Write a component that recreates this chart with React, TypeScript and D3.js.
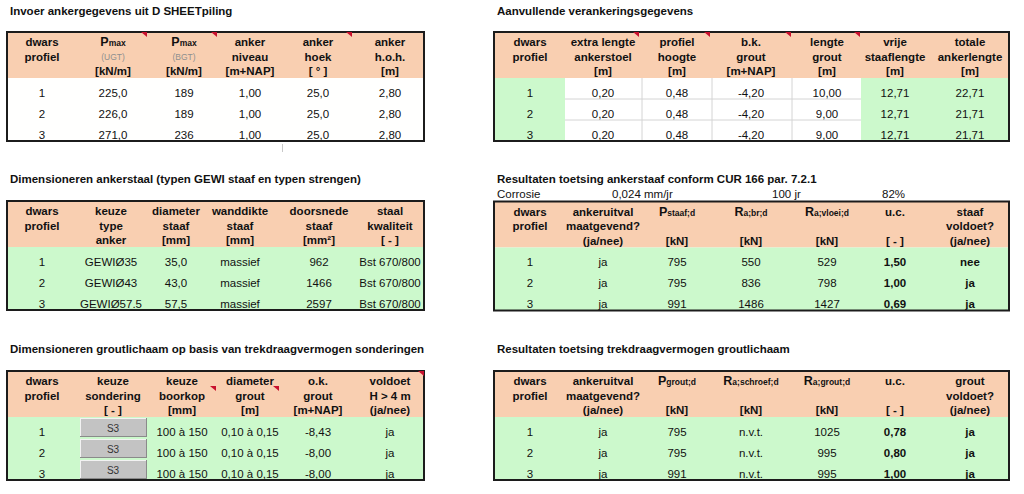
import React from "react";
import * as d3 from "d3";

// ---------- DATA ----------
const profielen = ["1", "2", "3"];

// Invoer ankergegevens uit D SHEETpiling
const pmaxUGT = [225.0, 226.0, 271.0];
const pmaxBGT = [189, 189, 236];
const ankerNiveau = [1.0, 1.0, 1.0];
const ankerHoek = [25.0, 25.0, 25.0];
const ankerHoh = [2.8, 2.8, 2.8];

// Aanvullende verankeringsgegevens
const extraLengteAnkerstoel = [0.2, 0.2, 0.2];
const profielHoogte = [0.48, 0.48, 0.48];
const bkGrout = [-4.2, -4.2, -4.2];
const lengteGrout = [10.0, 9.0, 9.0];
const vrijeStaaflengte = [12.71, 12.71, 12.71];
const totaleAnkerlengte = [22.71, 21.71, 21.71];

// Dimensioneren ankerstaal
const typeAnker = ["GEWIØ35", "GEWIØ43", "GEWIØ57.5"];
const diameterStaaf = [35.0, 43.0, 57.5];
const wanddikteStaaf = ["massief", "massief", "massief"];
const doorsnedeStaaf = [962, 1466, 2597];
const staalKwaliteit = ["Bst 670/800", "Bst 670/800", "Bst 670/800"];

// Resultaten toetsing ankerstaaf
const corrosieSnelheid = 0.024;
const levensduur = 100;
const restPercentage = 82;
const ankeruitvalStaaf = ["ja", "ja", "ja"];
const pStaafD = [795, 795, 991];
const raBrD = [550, 836, 1486];
const raVloeiD = [529, 798, 1427];
const ucStaaf = [1.5, 1.0, 0.69];
const staafVoldoet = ["nee", "ja", "ja"];

// Dimensioneren groutlichaam
const sondering = ["S3", "S3", "S3"];
const boorkop = ["100 à 150", "100 à 150", "100 à 150"];
const diameterGrout = ["0,10 à 0,15", "0,10 à 0,15", "0,10 à 0,15"];
const okGrout = [-8.43, -8.0, -8.0];
const voldoetH4 = ["ja", "ja", "ja"];

// Resultaten toetsing groutlichaam
const ankeruitvalGrout = ["ja", "ja", "ja"];
const pGroutD = [795, 795, 991];
const raSchroefD = ["n.v.t.", "n.v.t.", "n.v.t."];
const raGroutD = [1025, 995, 995];
const ucGrout = [0.78, 0.8, 1.0];
const groutVoldoet = ["ja", "ja", "ja"];

// ---------- FORMATTING ----------
const nl = d3.formatLocale({
  decimal: ",",
  thousands: ".",
  grouping: [3],
  currency: ["€", ""],
  minus: "-",
});
const fInt = nl.format("d");
const f1 = nl.format(".1f");
const f2 = nl.format(".2f");
const f3 = nl.format(".3f");

// ---------- STYLE / LAYOUT ----------
const FONT = "'Liberation Sans', Arial, sans-serif";
const PEACH = "#f9cfb1";
const GREEN = "#ccf9cc";
const WHITE = "#ffffff";
const TXT = "#111111";
const HEADER_H = 46;
const ROW_H = 21;
const FS = 11.5;

const rightEdges = [494, 565, 642, 712, 792, 861, 935, 1009];
const rightCenters = [530, 603, 677, 751, 827, 895, 970];

type HItem = string | { p: string; s: string } | { note: string } | null;
type Col = { values: string[]; bold?: boolean; fill?: string; button?: boolean };
type Mark = { x: number; dy: number };

function HeaderLine({ item, cx, y }: { item: HItem; cx: number; y: number }) {
  if (item === null) return null;
  if (typeof item === "string") {
    return (
      <text x={cx} y={y} textAnchor="middle" fontSize={FS} fontWeight="bold" fill={TXT}>
        {item}
      </text>
    );
  }
  if ("note" in item) {
    return (
      <text x={cx} y={y - 1} textAnchor="middle" fontSize={8.5} fill="#8f8f8f">
        {item.note}
      </text>
    );
  }
  return (
    <text x={cx} y={y} textAnchor="middle" fontWeight="bold" fill={TXT}>
      <tspan fontSize={12.5}>{item.p}</tspan>
      <tspan fontSize={8.5}>{item.s}</tspan>
    </text>
  );
}

function Table({
  top,
  edges,
  centers,
  headers,
  columns,
  marks = [],
}: {
  top: number;
  edges: number[];
  centers: number[];
  headers: HItem[][];
  columns: Col[];
  marks?: Mark[];
}) {
  const x0 = edges[0];
  const x1 = edges[edges.length - 1];
  const hb = top + HEADER_H;
  const y = d3
    .scaleBand<string>()
    .domain(profielen)
    .range([hb, hb + ROW_H * profielen.length]);
  const bottom = hb + ROW_H * profielen.length;
  const headerY = [top + 14, top + 28.5, top + 43];

  const gridEls: React.ReactNode[] = [];
  columns.forEach((c, i) => {
    if (c.fill === WHITE) {
      profielen.slice(1).forEach((p) => {
        gridEls.push(
          <line key={`h${i}${p}`} x1={edges[i]} x2={edges[i + 1]} y1={y(p)!} y2={y(p)!} stroke="#d4d4d4" strokeWidth={1} />
        );
      });
      if (i > 0 && columns[i - 1].fill === WHITE) {
        gridEls.push(
          <line key={`v${i}`} x1={edges[i]} x2={edges[i]} y1={hb} y2={bottom} stroke="#d4d4d4" strokeWidth={1} />
        );
      }
    }
  });

  return (
    <g>
      <rect x={x0} y={top} width={x1 - x0} height={HEADER_H} fill={PEACH} />
      {columns.map((c, i) => (
        <rect key={`f${i}`} x={edges[i]} y={hb} width={edges[i + 1] - edges[i]} height={bottom - hb} fill={c.fill ?? GREEN} />
      ))}
      {gridEls}
      {headers.map((lines, i) =>
        lines.map((item, j) => <HeaderLine key={`hd${i}-${j}`} item={item} cx={centers[i]} y={headerY[j]} />)
      )}
      {columns.map((c, i) =>
        profielen.map((p, r) => {
          const by = y(p)!;
          if (c.button) {
            const bx0 = edges[i] + 2;
            const bx1 = edges[i + 1] - 1;
            const bt = by + 1;
            const bb = by + ROW_H - 1;
            return (
              <g key={`b${i}${r}`}>
                <rect x={bx0} y={bt} width={bx1 - bx0} height={bb - bt} fill="#c3c3c3" />
                <line x1={bx0} x2={bx1} y1={bt + 0.5} y2={bt + 0.5} stroke="#f2f2f2" />
                <line x1={bx0 + 0.5} x2={bx0 + 0.5} y1={bt} y2={bb} stroke="#f2f2f2" />
                <line x1={bx0} x2={bx1} y1={bb - 0.5} y2={bb - 0.5} stroke="#8a8a8a" />
                <line x1={bx1 - 0.5} x2={bx1 - 0.5} y1={bt} y2={bb} stroke="#8a8a8a" />
                <text x={centers[i]} y={by + 14.5} textAnchor="middle" fontSize={10} fill="#333">
                  {c.values[r]}
                </text>
              </g>
            );
          }
          return (
            <text
              key={`t${i}${r}`}
              x={centers[i]}
              y={by + y.bandwidth() - 2.5}
              textAnchor="middle"
              fontSize={FS}
              fontWeight={c.bold ? "bold" : "normal"}
              fill={TXT}
            >
              {c.values[r]}
            </text>
          );
        })
      )}
      <rect x={x0} y={top} width={x1 - x0} height={bottom - top} fill="none" stroke="#1c1c1c" strokeWidth={2} />
      {marks.map((m, k) => (
        <path
          key={`m${k}`}
          d={`M${m.x - 6},${top + m.dy} L${m.x},${top + m.dy} L${m.x},${top + m.dy + 5} Z`}
          fill="#c8102e"
        />
      ))}
    </g>
  );
}

function Title({ x, y, text }: { x: number; y: number; text: string }) {
  return (
    <text x={x} y={y} fontSize={FS} fontWeight="bold" fill={TXT}>
      {text}
    </text>
  );
}

export default function App() {
  const fmt = (arr: number[], f: (n: number) => string) => arr.map(f);
  return (
    <svg
      width={1024}
      height={494}
      style={{ position: "absolute", left: 0, top: 0 }}
      fontFamily={FONT}
    >
      <rect width={1024} height={494} fill="#ffffff" />

      {/* Titles */}
      <Title x={10} y={14.5} text="Invoer ankergegevens uit D SHEETpiling" />
      <Title x={497} y={14.5} text="Aanvullende verankeringsgegevens" />
      <Title x={10} y={183} text="Dimensioneren ankerstaal (typen GEWI staaf en typen strengen)" />
      <Title x={497} y={183} text="Resultaten toetsing ankerstaaf conform CUR 166 par. 7.2.1" />
      <Title x={10} y={352.5} text="Dimensioneren groutlichaam op basis van trekdraagvermogen sonderingen" />
      <Title x={497} y={352.5} text="Resultaten toetsing trekdraagvermogen groutlichaam" />

      <g fontSize={FS} fill={TXT}>
        <text x={497} y={197.5}>Corrosie</text>
        <text x={612} y={197.5}>{`${f3(corrosieSnelheid)} mm/jr`}</text>
        <text x={772} y={197.5}>{`${levensduur} jr`}</text>
        <text x={882} y={197.5}>{`${restPercentage}%`}</text>
      </g>

      <line x1={282.5} x2={282.5} y1={144} y2={152} stroke="#c8c8c8" />

      {/* Table 1 */}
      <Table
        top={32}
        edges={[7, 77, 147, 217, 285, 352, 424]}
        centers={[42, 113, 184, 250, 318, 390]}
        headers={[
          ["dwars", "profiel", null],
          [{ p: "P", s: "max" }, { note: "(UGT)" }, "[kN/m]"],
          [{ p: "P", s: "max" }, { note: "(BGT)" }, "[kN/m]"],
          ["anker", "niveau", "[m+NAP]"],
          ["anker", "hoek", "[ ° ]"],
          ["anker", "h.o.h.", "[m]"],
        ]}
        columns={[
          { values: profielen },
          { values: fmt(pmaxUGT, f1) },
          { values: fmt(pmaxBGT, fInt) },
          { values: fmt(ankerNiveau, f2) },
          { values: fmt(ankerHoek, f1) },
          { values: fmt(ankerHoh, f2) },
        ].map((c) => ({ ...c, fill: "#fffffe" }))}
        marks={[
          { x: 147, dy: 0 },
          { x: 217, dy: 0 },
          { x: 352, dy: 0 },
        ]}
      />

      {/* Table 2 */}
      <Table
        top={32}
        edges={rightEdges}
        centers={rightCenters}
        headers={[
          ["dwars", "profiel", null],
          ["extra lengte", "ankerstoel", "[m]"],
          ["profiel", "hoogte", "[m]"],
          ["b.k.", "grout", "[m+NAP]"],
          ["lengte", "grout", "[m]"],
          ["vrije", "staaflengte", "[m]"],
          ["totale", "ankerlengte", "[m]"],
        ]}
        columns={[
          { values: profielen },
          { values: fmt(extraLengteAnkerstoel, f2), fill: WHITE },
          { values: fmt(profielHoogte, f2), fill: WHITE },
          { values: fmt(bkGrout, f2), fill: WHITE },
          { values: fmt(lengteGrout, f2), fill: WHITE },
          { values: fmt(vrijeStaaflengte, f2) },
          { values: fmt(totaleAnkerlengte, f2) },
        ]}
        marks={[
          { x: 639, dy: 0 },
          { x: 710, dy: 0 },
          { x: 791, dy: 0 },
          { x: 860, dy: 0 },
        ]}
      />

      {/* Table 3 */}
      <Table
        top={201}
        edges={[7, 77, 145, 207, 273, 356, 424]}
        centers={[42, 111, 176, 240, 319, 390]}
        headers={[
          ["dwars", "profiel", null],
          ["keuze", "type", "anker"],
          ["diameter", "staaf", "[mm]"],
          ["wanddikte", "staaf", "[mm]"],
          ["doorsnede", "staaf", "[mm²]"],
          ["staal", "kwaliteit", "[ - ]"],
        ]}
        columns={[
          { values: profielen },
          { values: typeAnker },
          { values: fmt(diameterStaaf, f1) },
          { values: wanddikteStaaf },
          { values: fmt(doorsnedeStaaf, fInt) },
          { values: staalKwaliteit },
        ]}
      />

      {/* Table 4 */}
      <Table
        top={201.5}
        edges={rightEdges}
        centers={rightCenters}
        headers={[
          ["dwars", "profiel", null],
          ["ankeruitval", "maatgevend?", "(ja/nee)"],
          [{ p: "P", s: "staaf;d" }, null, "[kN]"],
          [{ p: "R", s: "a;br;d" }, null, "[kN]"],
          [{ p: "R", s: "a;vloei;d" }, null, "[kN]"],
          ["u.c.", null, "[ - ]"],
          ["staaf", "voldoet?", "(ja/nee)"],
        ]}
        columns={[
          { values: profielen },
          { values: ankeruitvalStaaf },
          { values: fmt(pStaafD, fInt) },
          { values: fmt(raBrD, fInt) },
          { values: fmt(raVloeiD, fInt) },
          { values: fmt(ucStaaf, f2), bold: true },
          { values: staafVoldoet, bold: true },
        ]}
      />

      {/* Table 5 */}
      <Table
        top={371}
        edges={[7, 78, 148, 217, 280, 352, 424]}
        centers={[42, 113, 182, 250, 318, 390]}
        headers={[
          ["dwars", "profiel", null],
          ["keuze", "sondering", "[ - ]"],
          ["keuze", "boorkop", "[mm]"],
          ["diameter", "grout", "[m]"],
          ["o.k.", "grout", "[m+NAP]"],
          ["voldoet", "H > 4 m", "(ja/nee)"],
        ]}
        columns={[
          { values: profielen },
          { values: sondering, button: true },
          { values: boorkop },
          { values: diameterGrout },
          { values: fmt(okGrout, f2) },
          { values: voldoetH4 },
        ]}
        marks={[
          { x: 216, dy: 15 },
          { x: 279, dy: 15 },
          { x: 424, dy: 0 },
        ]}
      />

      {/* Table 6 */}
      <Table
        top={371}
        edges={rightEdges}
        centers={rightCenters}
        headers={[
          ["dwars", "profiel", null],
          ["ankeruitval", "maatgevend?", "(ja/nee)"],
          [{ p: "P", s: "grout;d" }, null, "[kN]"],
          [{ p: "R", s: "a;schroef;d" }, null, "[kN]"],
          [{ p: "R", s: "a;grout;d" }, null, "[kN]"],
          ["u.c.", null, "[ - ]"],
          ["grout", "voldoet?", "(ja/nee)"],
        ]}
        columns={[
          { values: profielen },
          { values: ankeruitvalGrout },
          { values: fmt(pGroutD, fInt) },
          { values: raSchroefD },
          { values: fmt(raGroutD, fInt) },
          { values: fmt(ucGrout, f2), bold: true },
          { values: groutVoldoet, bold: true },
        ]}
      />
    </svg>
  );
}
